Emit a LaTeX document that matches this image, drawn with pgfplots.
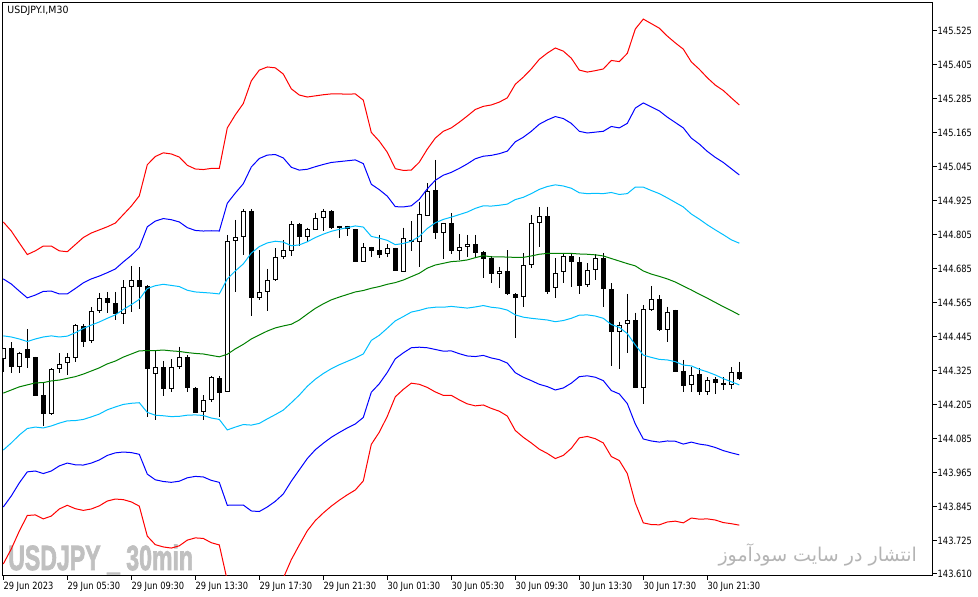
\documentclass[border=0pt]{standalone}
\usepackage{pgfplots}
\pgfplotsset{compat=1.18}
\usepackage{pgfplotstable}
\usepackage{graphicx}
\usepackage{fontspec}
\TeXXeTstate=1
\newfontfamily\tk[FakeStretch=0.83]{DejaVu Sans}
\newfontfamily\ttl[FakeStretch=0.94]{DejaVu Sans}
\newfontfamily\wm[FakeBold=2.5]{Liberation Sans}
\newfontfamily\arabicfont[Script=Arabic]{DejaVu Sans}
\definecolor{mtred}{RGB}{255,0,0}
\definecolor{mtblue}{RGB}{0,0,255}
\definecolor{mtsky}{RGB}{0,191,255}
\definecolor{mtgreen}{RGB}{0,128,0}
\definecolor{wmgray}{RGB}{192,192,192}
\definecolor{fagray}{RGB}{180,180,180}

\pgfplotstableread{
i o h l c
0 144.366 144.407 144.323 144.405
2 144.340 144.393 144.319 144.387
6 144.173 144.334 144.171 144.332
7 144.332 144.387 144.317 144.351
8 144.352 144.387 144.311 144.373
9 144.370 144.491 144.358 144.486
11 144.430 144.550 144.423 144.536
12 144.538 144.601 144.529 144.582
15 144.525 144.646 144.491 144.620
16 144.620 144.696 144.532 144.646
19 144.314 144.397 144.152 144.338
21 144.260 144.366 144.252 144.338
22 144.338 144.411 144.331 144.373
25 144.179 144.240 144.152 144.222
26 144.222 144.308 144.216 144.303
28 144.252 144.805 144.250 144.783
29 144.785 144.858 144.605 144.797
30 144.797 144.897 144.733 144.890
32 144.582 144.752 144.576 144.603
33 144.603 144.685 144.538 144.645
34 144.645 144.758 144.643 144.728
35 144.728 144.787 144.719 144.751
36 144.750 144.854 144.731 144.843
38 144.799 144.831 144.781 144.825
39 144.823 144.882 144.821 144.864
40 144.864 144.897 144.819 144.890
45 144.710 144.776 144.708 144.762
48 144.737 144.772 144.728 144.758
50 144.676 144.831 144.674 144.793
52 144.781 144.922 144.693 144.878
53 144.873 144.987 144.871 144.960
55 144.813 144.848 144.719 144.846
57 144.750 144.807 144.717 144.762
58 144.762 144.805 144.728 144.772
62 144.667 144.693 144.617 144.678
65 144.585 144.740 144.552 144.698
66 144.698 144.876 144.688 144.846
67 144.846 144.903 144.762 144.872
69 144.617 144.723 144.584 144.670
70 144.673 144.740 144.637 144.731
73 144.628 144.705 144.620 144.680
74 144.680 144.737 144.646 144.723
77 144.464 144.499 144.331 144.487
78 144.490 144.597 144.390 144.504
80 144.266 144.558 144.208 144.543
81 144.540 144.625 144.538 144.578
83 144.470 144.552 144.426 144.534
86 144.276 144.338 144.252 144.312
88 144.250 144.303 144.240 144.293
91 144.276 144.338 144.260 144.320
}\bull

\pgfplotstableread{
i o h l c
1 144.405 144.426 144.319 144.340
3 144.403 144.473 144.335 144.372
4 144.374 144.376 144.236 144.238
5 144.240 144.287 144.132 144.174
10 144.483 144.491 144.411 144.428
13 144.582 144.604 144.531 144.564
14 144.564 144.604 144.505 144.525
17 144.646 144.691 144.544 144.623
18 144.625 144.629 144.162 144.331
20 144.338 144.361 144.238 144.260
23 144.373 144.381 144.252 144.266
24 144.264 144.267 144.176 144.178
27 144.299 144.308 144.162 144.246
31 144.890 144.897 144.520 144.582
37 144.843 144.848 144.766 144.799
41 144.890 144.893 144.825 144.831
42 144.837 144.838 144.795 144.831
43 144.837 144.838 144.802 144.825
44 144.825 144.827 144.709 144.711
46 144.762 144.764 144.728 144.750
47 144.751 144.805 144.723 144.736
49 144.758 144.760 144.677 144.679
51 144.786 144.854 144.750 144.779
54 144.964 145.070 144.791 144.813
56 144.846 144.882 144.737 144.750
59 144.772 144.805 144.723 144.743
60 144.744 144.749 144.652 144.719
61 144.723 144.731 144.635 144.666
63 144.678 144.752 144.594 144.596
64 144.596 144.599 144.440 144.582
68 144.872 144.905 144.595 144.603
71 144.731 144.740 144.623 144.709
72 144.710 144.726 144.596 144.626
75 144.723 144.740 144.550 144.613
76 144.613 144.635 144.343 144.464
79 144.504 144.531 144.264 144.266
82 144.578 144.593 144.467 144.470
84 144.540 144.542 144.321 144.323
85 144.325 144.364 144.252 144.272
87 144.313 144.335 144.240 144.250
89 144.297 144.303 144.244 144.282
90 144.284 144.303 144.258 144.275
92 144.320 144.358 144.293 144.297
}\bear

\pgfplotstableread{
i rp bp cp m cm bm rm
0 144.851 144.650 144.449 144.247 144.046 143.845 143.644
1 144.819 144.632 144.445 144.258 144.071 143.884 143.697
2 144.777 144.607 144.438 144.269 144.099 143.930 143.760
3 144.736 144.583 144.429 144.276 144.122 143.969 143.815
4 144.749 144.593 144.438 144.283 144.127 143.972 143.817
5 144.766 144.606 144.445 144.284 144.124 143.963 143.803
6 144.766 144.607 144.449 144.290 144.131 143.972 143.813
7 144.749 144.597 144.445 144.293 144.141 143.990 143.838
8 144.746 144.597 144.448 144.299 144.149 144.000 143.851
9 144.771 144.616 144.460 144.305 144.150 143.994 143.839
10 144.796 144.636 144.475 144.314 144.154 143.993 143.833
11 144.812 144.650 144.487 144.325 144.163 144.000 143.838
12 144.823 144.660 144.498 144.336 144.173 144.011 143.849
13 144.834 144.672 144.511 144.350 144.188 144.027 143.866
14 144.847 144.685 144.523 144.360 144.198 144.036 143.873
15 144.877 144.710 144.542 144.374 144.207 144.039 143.871
16 144.907 144.733 144.559 144.385 144.211 144.037 143.863
17 144.943 144.761 144.578 144.396 144.213 144.031 143.848
18 145.053 144.834 144.616 144.397 144.179 143.961 143.742
19 145.082 144.854 144.626 144.397 144.169 143.941 143.712
20 145.095 144.863 144.631 144.399 144.167 143.935 143.704
21 145.091 144.859 144.627 144.396 144.164 143.932 143.700
22 145.080 144.851 144.623 144.394 144.165 143.936 143.708
23 145.051 144.831 144.610 144.390 144.169 143.948 143.728
24 145.038 144.821 144.604 144.387 144.170 143.953 143.736
25 145.036 144.819 144.602 144.385 144.168 143.951 143.734
26 145.040 144.820 144.600 144.380 144.159 143.939 143.719
27 145.040 144.819 144.597 144.375 144.154 143.932 143.711
28 145.183 144.917 144.650 144.384 144.117 143.851 143.585
29 145.229 144.953 144.678 144.403 144.127 143.852 143.577
30 145.269 144.986 144.703 144.419 144.136 143.852 143.569
31 145.349 145.045 144.741 144.438 144.134 143.831 143.527
32 145.387 145.075 144.764 144.452 144.140 143.829 143.517
33 145.398 145.087 144.777 144.466 144.156 143.845 143.534
34 145.395 145.089 144.783 144.477 144.171 143.865 143.559
35 145.373 145.077 144.780 144.484 144.187 143.891 143.594
36 145.321 145.044 144.767 144.490 144.213 143.936 143.659
37 145.299 145.034 144.770 144.505 144.240 143.976 143.711
38 145.292 145.037 144.781 144.526 144.271 144.016 143.761
39 145.296 145.046 144.796 144.546 144.296 144.047 143.797
40 145.300 145.054 144.808 144.562 144.316 144.070 143.824
41 145.303 145.061 144.818 144.576 144.333 144.091 143.848
42 145.303 145.064 144.825 144.586 144.347 144.108 143.869
43 145.302 145.067 144.831 144.595 144.359 144.124 143.888
44 145.303 145.070 144.837 144.604 144.371 144.138 143.905
45 145.281 145.057 144.833 144.609 144.385 144.161 143.937
46 145.167 144.984 144.800 144.617 144.433 144.250 144.066
47 145.136 144.965 144.794 144.623 144.451 144.280 144.109
48 145.097 144.942 144.786 144.631 144.476 144.320 144.165
49 145.039 144.905 144.771 144.637 144.502 144.368 144.234
50 145.033 144.904 144.775 144.646 144.517 144.389 144.260
51 145.034 144.908 144.783 144.658 144.533 144.407 144.282
52 145.062 144.931 144.800 144.670 144.539 144.409 144.278
53 145.108 144.968 144.828 144.688 144.547 144.407 144.267
54 145.147 144.998 144.848 144.699 144.550 144.401 144.251
55 145.171 145.016 144.860 144.705 144.550 144.395 144.239
56 145.183 145.026 144.868 144.711 144.553 144.396 144.239
57 145.203 145.040 144.877 144.713 144.550 144.386 144.223
58 145.225 145.056 144.886 144.717 144.547 144.378 144.209
59 145.248 145.074 144.899 144.725 144.551 144.376 144.202
60 145.259 145.083 144.908 144.732 144.556 144.380 144.205
61 145.264 145.086 144.907 144.728 144.550 144.371 144.193
62 145.274 145.092 144.910 144.728 144.547 144.365 144.183
63 145.289 145.101 144.914 144.727 144.540 144.353 144.166
64 145.337 145.134 144.930 144.726 144.523 144.319 144.115
65 145.362 145.150 144.938 144.726 144.515 144.303 144.091
66 145.391 145.171 144.951 144.731 144.511 144.291 144.071
67 145.425 145.196 144.966 144.737 144.508 144.278 144.049
68 145.447 145.211 144.976 144.740 144.505 144.270 144.034
69 145.465 145.223 144.982 144.740 144.499 144.258 144.016
70 145.454 145.216 144.978 144.740 144.503 144.265 144.027
71 145.429 145.199 144.970 144.740 144.511 144.282 144.052
72 145.387 145.171 144.954 144.738 144.522 144.305 144.089
73 145.380 145.165 144.951 144.737 144.523 144.308 144.094
74 145.385 145.168 144.952 144.735 144.519 144.303 144.086
75 145.391 145.171 144.951 144.731 144.511 144.291 144.071
76 145.421 145.188 144.955 144.722 144.489 144.256 144.023
77 145.417 145.183 144.948 144.713 144.479 144.244 144.009
78 145.446 145.199 144.951 144.704 144.457 144.210 143.963
79 145.532 145.253 144.974 144.696 144.417 144.138 143.859
80 145.567 145.271 144.974 144.678 144.381 144.085 143.789
81 145.551 145.257 144.962 144.667 144.373 144.078 143.783
82 145.535 145.243 144.951 144.659 144.366 144.074 143.782
83 145.507 145.221 144.936 144.650 144.364 144.078 143.792
84 145.483 145.202 144.920 144.639 144.358 144.077 143.795
85 145.461 145.183 144.904 144.625 144.346 144.067 143.789
86 145.416 145.147 144.879 144.611 144.343 144.074 143.806
87 145.390 145.126 144.861 144.596 144.331 144.067 143.802
88 145.360 145.100 144.841 144.582 144.322 144.063 143.803
89 145.334 145.079 144.823 144.567 144.311 144.055 143.799
90 145.315 145.061 144.806 144.552 144.298 144.044 143.790
91 145.289 145.039 144.788 144.538 144.287 144.036 143.786
92 145.264 145.017 144.776 144.523 144.276 144.029 143.781
}\bands

\begin{document}
\begin{tikzpicture}
\useasboundingbox (0pt,0pt) rectangle (978pt,597pt);
\node[anchor=base west, inner sep=0pt, text=wmgray] at (8pt,27pt)
  {\scalebox{0.66}[1]{\wm\bfseries\fontsize{35}{35}\selectfont USDJPY \_ 30min}};
\node[anchor=base east, inner sep=0pt, text=fagray] at (917pt,35.5pt)
  {\arabicfont\fontsize{19}{19}\selectfont\beginR انتشار در سایت سودآموز\endR};
\begin{axis}[
  at={(2.7pt,21.3pt)}, anchor=south west,
  width=929.8pt, height=573pt, scale only axis,
  xmin=-0.075, xmax=116.15, ymin=143.6025, ymax=145.6249,
  axis line style={line width=1pt, black},
  scaled y ticks=false,
  xtick={0,8,16,24,32,40,48,56,64,72,80,88},
  xticklabels={29 Jun 2023, 29 Jun 05:30, 29 Jun 09:30, 29 Jun 13:30, 29 Jun 17:30, 29 Jun 21:30, 30 Jun 01:30, 30 Jun 05:30, 30 Jun 09:30, 30 Jun 13:30, 30 Jun 17:30, 30 Jun 21:30},
  ytick={143.610,143.725,143.845,143.965,144.085,144.205,144.325,144.445,144.565,144.685,144.805,144.925,145.045,145.165,145.285,145.405,145.525},
  yticklabels={143.610,143.725,143.845,143.965,144.085,144.205,144.325,144.445,144.565,144.685,144.805,144.925,145.045,145.165,145.285,145.405,145.525},
  xtick pos=left, ytick pos=right, yticklabel pos=right,
  tick align=outside, major tick length=4pt,
  tick style={line width=1pt, black},
  tick label style={font=\tk\fontsize{10}{12}\selectfont, inner sep=0pt},
  xticklabel style={anchor=north west, yshift=-2pt},
  yticklabel style={anchor=west, xshift=1pt},
]
% wicks
\addplot[draw=none, mark=none, error bars/.cd, y dir=minus, y explicit, error mark=none,
  error bar style={solid, draw=black, line width=1pt}]
  table[x=i, y=h, y error minus expr=\thisrow{h}-\thisrow{l}] {\bull};
\addplot[draw=none, mark=none, error bars/.cd, y dir=minus, y explicit, error mark=none,
  error bar style={solid, draw=black, line width=1pt}]
  table[x=i, y=h, y error minus expr=\thisrow{h}-\thisrow{l}] {\bear};
% bear bodies
\addplot[draw=none, mark=none, error bars/.cd, y dir=minus, y explicit, error mark=none,
  error bar style={solid, draw=black, line width=5pt}]
  table[x=i, y=o, y error minus expr=\thisrow{o}-\thisrow{c}] {\bear};
% bull bodies
\addplot[draw=none, mark=none, error bars/.cd, y dir=minus, y explicit, error mark=none,
  error bar style={solid, draw=black, line width=5pt}]
  table[x=i, y=c, y error minus expr=\thisrow{c}-\thisrow{o}] {\bull};
\addplot[draw=none, mark=none, error bars/.cd, y dir=minus, y explicit, error mark=none,
  error bar style={solid, draw=white, line width=3pt, shorten <=1pt, shorten >=1pt}]
  table[x=i, y=c, y error minus expr=\thisrow{c}-\thisrow{o}] {\bull};
% bands
\addplot[mtred, line width=1pt, mark=none] table[x=i, y=rp] {\bands};
\addplot[mtblue, line width=1pt, mark=none] table[x=i, y=bp] {\bands};
\addplot[mtsky, line width=1pt, mark=none] table[x=i, y=cp] {\bands};
\addplot[mtgreen, line width=1pt, mark=none] table[x=i, y=m] {\bands};
\addplot[mtsky, line width=1pt, mark=none] table[x=i, y=cm] {\bands};
\addplot[mtblue, line width=1pt, mark=none] table[x=i, y=bm] {\bands};
\addplot[mtred, line width=1pt, mark=none] table[x=i, y=rm] {\bands};
\end{axis}
\node[anchor=west, inner sep=0pt] at (7.3pt,586.3pt) {\ttl\fontsize{10}{12}\selectfont USDJPY.I,M30};
\end{tikzpicture}
\end{document}
